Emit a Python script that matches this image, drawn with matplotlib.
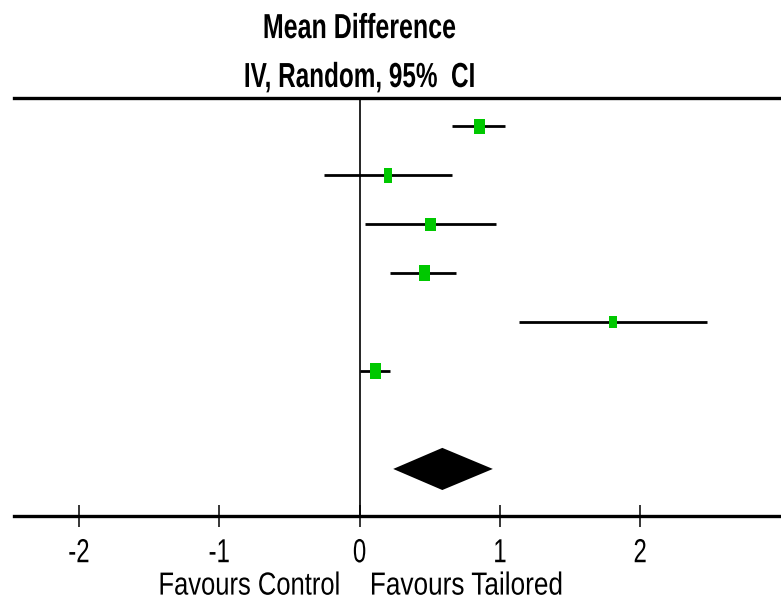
import matplotlib
matplotlib.use("Agg")
import matplotlib.pyplot as plt
import matplotlib.transforms as mtransforms
from matplotlib.patheffects import AbstractPathEffect

# study results (mean difference, 95% CI), top to bottom
md = [0.85, 0.20, 0.50, 0.46, 1.81, 0.11]
ci_low = [0.66, -0.25, 0.04, 0.22, 1.14, 0.00]
ci_high = [1.04, 0.66, 0.97, 0.69, 2.48, 0.22]
# pooled estimate
pooled = 0.59
pooled_low = 0.24
pooled_high = 0.95

ticks = [-2, -1, 0, 1, 2]
tick_labels = ["-2", "-1", "0", "1", "2"]

# box sizes in pixels (w, h) as drawn
box_w = [11, 8, 11, 11, 8, 11]
box_h = [15, 15, 13, 16, 12, 16]

fam = ["Liberation Sans", "DejaVu Sans"]
green = "#00c800"


# squeeze text horizontally (the original uses a narrow, tall font)
class Squeeze(AbstractPathEffect):
    def __init__(self, sx, anchor="center"):
        super().__init__()
        self.sx = sx
        self.anchor = anchor

    def draw_path(self, renderer, gc, tpath, affine, rgbFace=None):
        bb = tpath.get_extents(affine)
        if self.anchor == "left":
            cx = bb.x0
        elif self.anchor == "right":
            cx = bb.x1
        else:
            cx = (bb.x0 + bb.x1) / 2
        aff = affine + mtransforms.Affine2D().translate(-cx, 0).scale(self.sx, 1).translate(cx, 0)
        renderer.draw_path(gc, tpath, aff, rgbFace)


fig = plt.figure(figsize=(7.81, 6.04), dpi=100)
ax = fig.add_axes([0.0179, 0.1457, 0.9821, 0.6921])

rows = list(range(1, len(md) + 1))
for i in range(len(md)):
    ax.plot([ci_low[i], ci_high[i]], [rows[i], rows[i]], color="black", lw=2.0,
            solid_capstyle="butt", zorder=2)
    r = box_w[i] / box_h[i]
    verts = [(-r, -1), (r, -1), (r, 1), (-r, 1), (-r, -1)]
    ax.plot([md[i]], [rows[i]], marker=verts, markersize=box_h[i] * 0.72,
            color=green, markeredgewidth=0, linestyle="none", zorder=3)

# pooled diamond
prow = 8
hh = 0.43
ax.fill([pooled_low, pooled, pooled_high, pooled], [prow, prow - hh, prow, prow + hh],
        color="black", lw=0, zorder=3)

ax.axvline(0, color="black", lw=1.2, zorder=1)

ax.set_xlim(-2.463, 3.004)
ax.set_ylim(8.96, 0.43)
ax.set_yticks([])
ax.set_xticks(ticks)
ax.set_xticklabels(tick_labels, fontfamily=fam, fontsize=24)
ax.tick_params(axis="x", direction="inout", length=16, width=1.1, pad=8)
for lbl in ax.get_xticklabels():
    lbl.set_path_effects([Squeeze(0.72)])

for s in ["left", "right"]:
    ax.spines[s].set_visible(False)
ax.spines["top"].set_linewidth(2.4)
ax.spines["bottom"].set_linewidth(2.4)

# column headers
htrans = mtransforms.blended_transform_factory(ax.transData, fig.transFigure)
ax.text(0, 0.937, "Mean Difference", transform=htrans, ha="center", va="baseline",
        fontsize=25, fontweight="bold", fontfamily=fam, path_effects=[Squeeze(0.72)])
ax.text(0, 0.856, "IV, Random, 95%  CI", transform=htrans, ha="center", va="baseline",
        fontsize=25, fontweight="bold", fontfamily=fam, path_effects=[Squeeze(0.70)])

fig.text(-0.13, 0.004, "Favours Control", transform=htrans, ha="right", va="bottom",
         fontsize=23, fontfamily=fam, path_effects=[Squeeze(0.8, "right")])
fig.text(0.07, 0.004, "Favours Tailored", transform=htrans, ha="left", va="bottom",
         fontsize=23, fontfamily=fam, path_effects=[Squeeze(0.82, "left")])

fig.savefig("out.png", dpi=100)
